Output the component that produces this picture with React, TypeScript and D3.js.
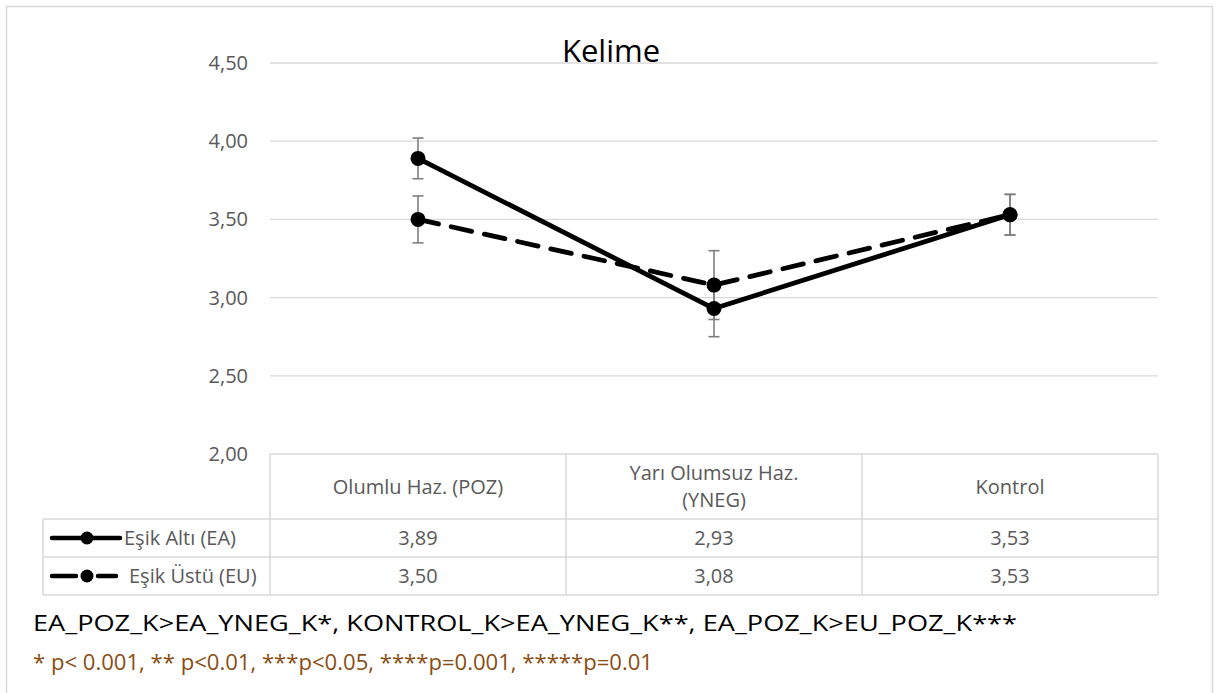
import React from "react";
import * as d3 from "d3";

const categories = ["Olumlu Haz. (POZ)", "Yarı Olumsuz Haz. (YNEG)", "Kontrol"];
const categoryLines = [["Olumlu Haz. (POZ)"], ["Yarı Olumsuz Haz.", "(YNEG)"], ["Kontrol"]];
const seriesNames = ["Eşik Altı (EA)", "Eşik Üstü (EU)"];
const eaValues = [3.89, 2.93, 3.53];
const euValues = [3.5, 3.08, 3.53];
const eaErrors = [0.13, 0.18, 0.13];
const euErrors = [0.15, 0.22, 0.13];
const yTicks = [2.0, 2.5, 3.0, 3.5, 4.0, 4.5];
const yTickLabels = ["2,00", "2,50", "3,00", "3,50", "4,00", "4,50"];
const tableValues = [["3,89", "2,93", "3,53"], ["3,50", "3,08", "3,53"]];
const title = "Kelime";
const note1 = "EA_POZ_K>EA_YNEG_K*, KONTROL_K>EA_YNEG_K**,  EA_POZ_K>EU_POZ_K***";
const note2 = "* p< 0.001, ** p<0.01, ***p<0.05, ****p=0.001, *****p=0.01";

const W = 1219;
const H = 693;
const FONT = "'Open Sans', 'Noto Sans', sans-serif";
const FS = 20;

export default function App() {
  const x = d3.scaleBand<string>().domain(categories).range([270, 1158]).padding(0);
  const y = d3.scaleLinear().domain([2, 4.5]).range([454, 63]);
  const cx = (c: string) => (x(c) as number) + x.bandwidth() / 2;

  const series = [
    { name: seriesNames[0], values: eaValues, errors: eaErrors, dash: undefined as string | undefined },
    { name: seriesNames[1], values: euValues, errors: euErrors, dash: "21 13" },
  ];

  const line = d3
    .line<number>()
    .x((_, i) => cx(categories[i]))
    .y((v) => y(v));

  const grid = "#d9d9d9";
  const textCol = "#595959";
  const tableTop = y(2);
  const headerBottom = 519;
  const row1Bottom = 557;
  const row2Bottom = 595;
  const tableLeft = 43;
  const rowBounds = [
    [headerBottom, row1Bottom],
    [row1Bottom, row2Bottom],
  ];

  return (
    <svg
      width={W}
      height={H}
      style={{ position: "absolute", left: 0, top: 0, background: "#fff" }}
      fontFamily={FONT}
    >
      <rect x={6.5} y={6.5} width={1206} height={H + 20} fill="#fff" stroke={grid} strokeWidth={1.5} />

      {/* gridlines */}
      {yTicks.map((t, i) =>
        i === 0 ? null : (
          <line key={t} x1={270} x2={1158} y1={y(t)} y2={y(t)} stroke={grid} strokeWidth={1.3} />
        )
      )}
      {yTicks.map((t, i) => (
        <text key={"l" + t} x={248} y={y(t)} dy="0.35em" textAnchor="end" fontSize={FS} fill={textCol}>
          {yTickLabels[i]}
        </text>
      ))}

      {/* title */}
      <text x={611} y={62} textAnchor="middle" fontSize={31} fill="#000">
        {title}
      </text>

      {/* data table */}
      <g stroke={grid} strokeWidth={1.5} fill="none">
        <line x1={270} x2={1158} y1={tableTop} y2={tableTop} />
        <line x1={tableLeft} x2={1158} y1={headerBottom} y2={headerBottom} />
        <line x1={tableLeft} x2={1158} y1={row1Bottom} y2={row1Bottom} />
        <line x1={tableLeft} x2={1158} y1={row2Bottom} y2={row2Bottom} />
        <line x1={tableLeft} x2={tableLeft} y1={headerBottom} y2={row2Bottom} />
        {categories.map((c) => (
          <line key={c} x1={x(c) as number} x2={x(c) as number} y1={tableTop} y2={row2Bottom} />
        ))}
        <line x1={1158} x2={1158} y1={tableTop} y2={row2Bottom} />
      </g>
      {categories.map((c, i) => {
        const lines = categoryLines[i];
        const mid = (tableTop + headerBottom) / 2;
        return lines.map((l, j) => (
          <text
            key={c + j}
            x={cx(c)}
            y={mid + (j - (lines.length - 1) / 2) * 27}
            dy="0.35em"
            textAnchor="middle"
            fontSize={FS}
            fill={textCol}
          >
            {l}
          </text>
        ));
      })}
      {tableValues.map((row, r) =>
        row.map((v, i) => (
          <text
            key={r + "-" + i}
            x={cx(categories[i])}
            y={(rowBounds[r][0] + rowBounds[r][1]) / 2}
            dy="0.35em"
            textAnchor="middle"
            fontSize={FS}
            fill={textCol}
          >
            {v}
          </text>
        ))
      )}
      {/* legend keys */}
      {series.map((s, r) => {
        const cy = (rowBounds[r][0] + rowBounds[r][1]) / 2;
        return (
          <g key={s.name}>
            {s.dash ? (
              <>
                <line x1={52} x2={76} y1={cy} y2={cy} stroke="#000" strokeWidth={4.5} strokeLinecap="round" />
                <line x1={98} x2={116} y1={cy} y2={cy} stroke="#000" strokeWidth={4.5} strokeLinecap="round" />
              </>
            ) : (
              <line x1={52} x2={120} y1={cy} y2={cy} stroke="#000" strokeWidth={4.5} strokeLinecap="round" />
            )}
            <circle cx={87} cy={cy} r={6.5} fill="#000" />
            <text x={s.dash ? 129 : 124} y={cy} dy="0.35em" fontSize={FS} fill={textCol}>
              {s.name}
            </text>
          </g>
        );
      })}

      {/* error bars */}
      {series.map((s) =>
        s.values.map((v, i) => {
          const px = cx(categories[i]);
          const hi = y(v + s.errors[i]);
          const lo = y(v - s.errors[i]);
          return (
            <g key={s.name + i} stroke="#7f7f7f" strokeWidth={1.6}>
              <line x1={px} x2={px} y1={hi} y2={lo} />
              <line x1={px - 5.5} x2={px + 5.5} y1={hi} y2={hi} />
              <line x1={px - 5.5} x2={px + 5.5} y1={lo} y2={lo} />
            </g>
          );
        })
      )}

      {/* lines */}
      {series.map((s) => (
        <path
          key={"p" + s.name}
          d={line(s.values) || ""}
          fill="none"
          stroke="#000"
          strokeWidth={4.8}
          strokeDasharray={s.dash}
          strokeLinecap={s.dash ? "round" : "butt"}
          strokeLinejoin="round"
        />
      ))}
      {series.map((s) =>
        s.values.map((v, i) => (
          <circle key={"c" + s.name + i} cx={cx(categories[i])} cy={y(v)} r={7.5} fill="#000" />
        ))
      )}

      {/* notes */}
      <text x={33} y={631} fontSize={21} fill="#000" textLength={984} lengthAdjust="spacingAndGlyphs">
        {note1}
      </text>
      <text x={33} y={670} fontSize={21} fill="#8a4d12" textLength={620} lengthAdjust="spacingAndGlyphs">
        {note2}
      </text>
    </svg>
  );
}
